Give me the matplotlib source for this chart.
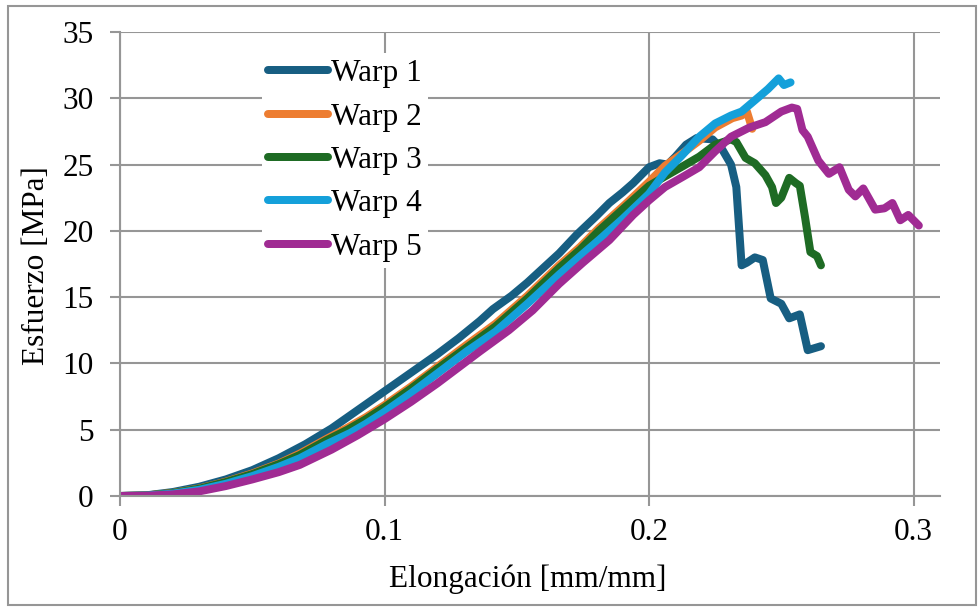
import matplotlib
matplotlib.use('Agg')
from matplotlib import pyplot as plt
from matplotlib.patches import Rectangle

# Warp 1
x1 = [0, 0.01, 0.02, 0.03, 0.04, 0.05, 0.06, 0.07, 0.08, 0.09, 0.1, 0.11, 0.12, 0.128,
      0.136, 0.141, 0.148, 0.154, 0.16, 0.166, 0.1726, 0.18, 0.185, 0.19, 0.194, 0.2, 0.204,
      0.207, 0.21, 0.214, 0.218, 0.224, 0.2275, 0.231, 0.233, 0.235, 0.237, 0.240, 0.243,
      0.246, 0.250, 0.253, 0.257, 0.260, 0.265]
y1 = [0, 0.05, 0.3, 0.7, 1.25, 1.95, 2.85, 3.9, 5.1, 6.5, 7.9, 9.3, 10.7, 11.9,
      13.2, 14.1, 15.1, 16.1, 17.2, 18.3, 19.7, 21.1, 22.1, 22.9, 23.6, 24.8, 25.1,
      25.0, 25.6, 26.5, 27.0, 26.9, 26.2, 25.0, 23.3, 17.4, 17.6, 18.0, 17.8,
      14.9, 14.5, 13.4, 13.7, 11.0, 11.3]

# Warp 2
x2 = [0, 0.01, 0.02, 0.03, 0.04, 0.05, 0.06, 0.068, 0.078, 0.086, 0.093, 0.1, 0.11, 0.12,
      0.131, 0.142, 0.154, 0.166, 0.174, 0.181, 0.191, 0.2, 0.206, 0.213, 0.219, 0.225,
      0.2315, 0.235, 0.237, 0.239]
y2 = [0, 0.04, 0.23, 0.57, 1.08, 1.7, 2.45, 3.2, 4.3, 5.15, 5.95, 6.85, 8.25, 9.75,
      11.4, 13.0, 15.1, 17.4, 18.8, 20.2, 22.0, 23.7, 24.9, 25.9, 26.8, 27.8,
      28.5, 28.7, 29.0, 27.7]

# Warp 3
x3 = [0, 0.01, 0.02, 0.03, 0.04, 0.05, 0.06, 0.068, 0.078, 0.086, 0.093, 0.1, 0.11, 0.12,
      0.131, 0.142, 0.154, 0.166, 0.174, 0.181, 0.191, 0.2, 0.206, 0.213, 0.219, 0.225,
      0.231, 0.233, 0.2365, 0.240, 0.244, 0.2465, 0.248, 0.250, 0.253, 0.2555, 0.257,
      0.259, 0.261, 0.2635, 0.265]
y3 = [0, 0.04, 0.22, 0.55, 1.05, 1.65, 2.4, 3.1, 4.2, 5.0, 5.8, 6.7, 8.1, 9.6,
      11.2, 12.8, 14.9, 17.2, 18.6, 20.0, 21.8, 23.4, 24.1, 24.9, 25.6, 26.5,
      26.9, 26.7, 25.5, 25.1, 24.2, 23.3, 22.1, 22.5, 24.0, 23.6, 23.4,
      21.0, 18.4, 18.1, 17.4]

# Warp 4
x4 = [0, 0.01, 0.02, 0.03, 0.04, 0.05, 0.06, 0.068, 0.078, 0.087, 0.093, 0.1, 0.11, 0.12,
      0.131, 0.142, 0.154, 0.166, 0.174, 0.181, 0.19, 0.2, 0.206, 0.212, 0.219, 0.225,
      0.231, 0.235, 0.2415, 0.245, 0.249, 0.251, 0.2535]
y4 = [0, 0.03, 0.18, 0.47, 0.92, 1.5, 2.2, 2.85, 3.9, 4.75, 5.45, 6.35, 7.75, 9.25,
      10.9, 12.4, 14.5, 16.7, 18.1, 19.3, 20.9, 22.8, 24.4, 25.6, 27.1, 28.1,
      28.7, 29.0, 30.1, 30.7, 31.5, 31.0, 31.2]

# Warp 5
x5 = [0, 0.01, 0.02, 0.03, 0.04, 0.05, 0.06, 0.068, 0.08, 0.09, 0.1, 0.11, 0.12, 0.128,
      0.136, 0.147, 0.156, 0.166, 0.175, 0.185, 0.194, 0.2, 0.206, 0.213, 0.219, 0.225,
      0.231, 0.238, 0.244, 0.250, 0.254, 0.256, 0.258, 0.260, 0.264, 0.268, 0.272,
      0.2755, 0.278, 0.281, 0.2855, 0.289, 0.292, 0.295, 0.298, 0.302]
y5 = [0, 0.02, 0.12, 0.35, 0.75, 1.25, 1.8, 2.35, 3.5, 4.6, 5.8, 7.1, 8.5, 9.7,
      10.9, 12.5, 14.0, 16.0, 17.6, 19.3, 21.2, 22.3, 23.3, 24.1, 24.8, 26.0,
      27.1, 27.8, 28.2, 29.0, 29.3, 29.2, 27.6, 27.1, 25.3, 24.3, 24.8,
      23.1, 22.6, 23.2, 21.6, 21.7, 22.1, 20.8, 21.2, 20.4]

labels = ['Warp 1', 'Warp 2', 'Warp 3', 'Warp 4', 'Warp 5']
colors = ['#175e82', '#ed7d31', '#1e6b24', '#14a0da', '#a02b93']
x_ticks = [0, 0.1, 0.2, 0.3]
x_tick_labels = ['0', '0.1', '0.2', '0.3']
y_ticks = [0, 5, 10, 15, 20, 25, 30, 35]

plt.rcParams['font.family'] = ['Liberation Serif', 'DejaVu Serif']
grey = '#969696'
fs = 22.5

fig = plt.figure(figsize=(9.8, 6.07), dpi=100)
ax = fig.add_axes([120 / 980, 1 - 496 / 607, 820 / 980, 464 / 607])

series = [(x1, y1), (x2, y2), (x3, y3), (x4, y4), (x5, y5)]
for (xs, ys), lab, c in zip(series, labels, colors):
    ax.plot(xs, ys, color=c, lw=5.75, label=lab, solid_capstyle='round',
            solid_joinstyle='round')

ax.set_xlim(0, 0.31)
ax.set_ylim(0, 35)
ax.set_xticks(x_ticks)
ax.set_xticklabels(x_tick_labels)
ax.set_yticks(y_ticks)
ax.grid(True, color=grey, lw=1.5)
ax.set_axisbelow(True)
for s in ['top', 'right']:
    ax.spines[s].set_visible(False)
for s in ['left', 'bottom']:
    ax.spines[s].set_color(grey)
    ax.spines[s].set_linewidth(1.5)
ax.tick_params(axis='both', colors=grey, length=7, width=1.5, labelsize=fs,
               labelcolor='black')
ax.tick_params(axis='x', pad=8.5)
ax.tick_params(axis='y', pad=12)

fig.text(528 / 980, 1 - 587 / 607, 'Elongación [mm/mm]', fontsize=fs,
         ha='center', va='baseline')
fig.text(37 / 980, 1 - 266 / 607, 'Esfuerzo [MPa]', fontsize=fs,
         ha='center', va='center', rotation=90)

leg = ax.legend(loc='upper left', bbox_to_anchor=(262 / 980, 1 - 53 / 607),
                bbox_transform=fig.transFigure, fontsize=fs, frameon=True,
                handlelength=1.9, handletextpad=0.1, labelspacing=0.46,
                borderaxespad=0, borderpad=0.2)
leg.get_frame().set_facecolor('white')
leg.get_frame().set_edgecolor('none')
leg.get_frame().set_alpha(1)
for line in leg.get_lines():
    line.set_linewidth(5.75)

fig.patches.append(Rectangle((8 / 980, 2 / 607), 968 / 980, 599 / 607,
                             transform=fig.transFigure, fill=False,
                             edgecolor=grey, lw=1.5))

fig.savefig('out.png', dpi=100)
